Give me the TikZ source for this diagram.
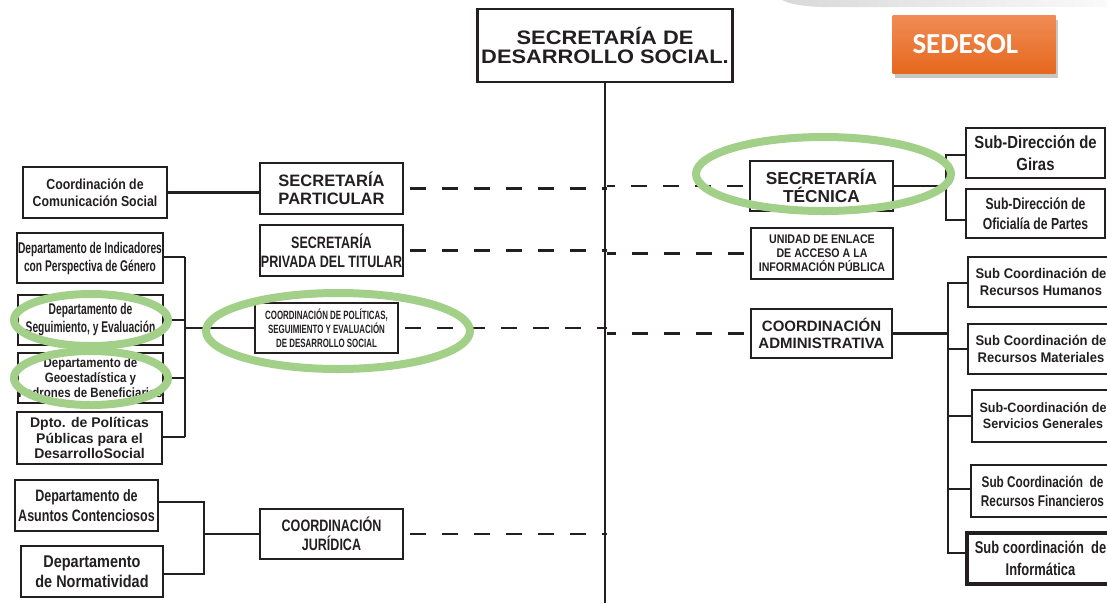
\documentclass[tikz,border=0pt]{standalone}
\usepackage{fontspec}
\setmainfont{Liberation Sans}
\newfontfamily\cA[FakeStretch=0.66]{Liberation Sans}
\newfontfamily\cB[FakeStretch=0.76]{Liberation Sans}
\newfontfamily\cC[FakeStretch=0.85]{Liberation Sans}
\newfontfamily\cE[FakeStretch=0.93]{Liberation Sans}
\newfontfamily\cW[FakeStretch=1.12]{Liberation Sans}
\newfontfamily\sedfont{Carlito}
\usetikzlibrary{shadows}
\definecolor{ink}{RGB}{35,31,32}
\definecolor{hlgreen}{RGB}{163,208,137}
\definecolor{orTop}{RGB}{240,140,85}
\definecolor{orBot}{RGB}{230,104,30}
\tikzset{
  box/.style={draw=ink, line width=2.5pt, inner sep=0pt, align=center, text=ink},
  link/.style={draw=ink, line width=2.4pt},
  dlink/.style={draw=ink, line width=2.4pt, dash pattern=on 16pt off 16pt, dash phase=26pt},
  hl/.style={draw=hlgreen, line width=8pt},
}
\newcommand\fz[2]{\fontsize{#1}{#2}\selectfont}
\begin{document}
\begin{tikzpicture}[x=1pt,y=-1pt]
\useasboundingbox (0,0) rectangle (1107,603);
\clip (0,0) rectangle (1107,603);
% faint grey fragment at top
\shade[left color=gray!30, right color=gray!4] (782,0) -- (1107,0) -- (1107,7) -- (845,7) .. controls (810,8) and (792,5) .. (782,0) -- cycle;

% title and trunk
\node[box, minimum width=255pt, minimum height=73pt, font={\cW\bfseries\fz{19.5}{18.5}}] (top) at (605,45.5) {SECRETARÍA DE\\DESARROLLO SOCIAL.};
\coordinate (trunkend) at (607,603);
\draw[link] (top.south) -- (top.south |- trunkend);

% SEDESOL
\node[minimum width=163pt, minimum height=58pt, inner xsep=20pt, inner ysep=0pt, top color=orTop, bottom color=orBot, drop shadow={shadow xshift=2pt, shadow yshift=-5pt, opacity=0.45}, text=white, font={\sedfont\bfseries\fz{29}{30}}] (sed) at (974,44) {\makebox[123pt][l]{SEDESOL}};

% left column boxes
\node[box, minimum width=144pt, minimum height=51pt, font={\cC\bfseries\fz{14.5}{17}}] (cocs) at (95,192.5) {Coordinación de\\Comunicación Social};
\node[box, minimum width=146pt, minimum height=50pt, font={\cA\bfseries\fz{15.5}{18}}] (dind) at (90,258) {Departamento de Indicadores\\con Perspectiva de Género};
\node[box, minimum width=145pt, minimum height=50pt, font={\cA\bfseries\fz{15.5}{18}}] (dseg) at (90.5,320) {Departamento de\\Seguimiento, y Evaluación};
\node[box, minimum width=145pt, minimum height=50pt, font={\cC\bfseries\fz{13.5}{15}}] (dgeo) at (90.5,378) {Departamento de\\Geoestadística y\\Padrones de Beneficiarios};
\node[box, minimum width=145pt, minimum height=52pt, font={\bfseries\fz{14}{15.5}}] (dpol) at (89.5,438) {Dpto. de Políticas\\Públicas para el\\DesarrolloSocial};
\node[box, minimum width=143pt, minimum height=51pt, font={\cB\bfseries\fz{16.5}{20}}] (dasu) at (86.5,505.5) {Departamento de\\Asuntos Contenciosos};
\node[box, minimum width=142pt, minimum height=51pt, font={\cC\bfseries\fz{17}{20}}] (dnor) at (92,571.5) {Departamento\\de Normatividad};

% middle-left boxes
\node[box, minimum width=143pt, minimum height=51pt, font={\bfseries\fz{16.5}{18}}] (spart) at (331.5,188.5) {SECRETARÍA\\PARTICULAR};
\node[box, minimum width=143pt, minimum height=51pt, font={\cB\bfseries\fz{16.5}{19}}] (spriv) at (331.5,250.5) {SECRETARÍA\\PRIVADA DEL TITULAR};
\node[box, minimum width=143pt, minimum height=50pt, font={\cA\bfseries\fz{12}{14}}] (cpol) at (326.5,328) {COORDINACIÓN DE POLÍTICAS,\\SEGUIMIENTO Y EVALUACIÓN\\DE DESARROLLO SOCIAL};
\node[box, minimum width=143pt, minimum height=50pt, font={\cB\bfseries\fz{16.5}{19}}] (cjur) at (331.5,534) {COORDINACIÓN\\JURÍDICA};

% middle-right boxes
\node[box, minimum width=143pt, minimum height=50pt, font={\bfseries\fz{17.3}{18}}] (stec) at (821.5,186) {SECRETARÍA\\TÉCNICA};
\node[box, minimum width=142pt, minimum height=51pt, font={\cC\bfseries\fz{12.5}{14}}] (unid) at (822,253.5) {UNIDAD DE ENLACE\\DE ACCESO A LA\\INFORMACIÓN PÚBLICA};
\node[box, minimum width=141pt, minimum height=49pt, font={\bfseries\fz{15}{17}}] (cadm) at (821.5,333.5) {COORDINACIÓN\\ADMINISTRATIVA};

% right column boxes
\node[box, minimum width=139pt, minimum height=50pt, font={\cC\bfseries\fz{17.5}{22}}] (sgir) at (1035.5,153) {Sub-Dirección de\\Giras};
\node[box, minimum width=139pt, minimum height=49pt, font={\cB\bfseries\fz{16}{20}}] (sofi) at (1035.5,213.5) {Sub-Dirección de\\Oficialía de Partes};
\node[box, minimum width=146pt, minimum height=50pt, font={\cE\bfseries\fz{14}{17}}] (srh) at (1041,282) {Sub Coordinación de\\Recursos Humanos};
\node[box, minimum width=146pt, minimum height=50pt, font={\cE\bfseries\fz{14}{17}}] (srm) at (1041,349) {Sub Coordinación de\\Recursos Materiales};
\node[box, minimum width=142pt, minimum height=52pt, font={\cE\bfseries\fz{13.5}{16}}] (ssg) at (1043,416) {Sub-Coordinación de\\Servicios Generales};
\node[box, minimum width=143pt, minimum height=52pt, font={\cB\bfseries\fz{15.5}{19}}] (srf) at (1042.5,491) {Sub Coordinación~ de\\Recursos Financieros};
\node[box, line width=3.4pt, minimum width=147pt, minimum height=51pt, font={\cB\bfseries\fz{17}{22}}] (sinf) at (1040.5,558.5) {Sub coordinación~ de\\Informática};

% left connectors
\draw[link] (cocs.east) -- (spart.west |- cocs.east);
\coordinate (b1t) at (185,257);
\coordinate (b1b) at (185,437);
\draw[link] (b1t) -- (b1b);
\draw[link] (dind.east |- b1t) -- (b1t);
\draw[link] (dseg.east) -- (dseg.east -| b1t);
\draw[link] (dgeo.east) -- (dgeo.east -| b1t);
\draw[link] (dpol.east |- b1b) -- (b1b);
\draw[link] (cpol.west -| b1t) -- (cpol.west);
\coordinate (b4t) at (204,502);
\coordinate (b4b) at (204,574);
\draw[link] (dasu.east |- b4t) -- (b4t) -- (b4b) -- (dnor.east |- b4b);
\draw[link] (cjur.west -| b4t) -- (cjur.west);

% dashed links to trunk
\draw[dlink] (spart.east) -- (spart.east -| trunkend);
\draw[dlink] (spriv.east) -- (spriv.east -| trunkend);
\draw[dlink] (cpol.east) -- (cpol.east -| trunkend);
\draw[dlink] (cjur.east) -- (cjur.east -| trunkend);
\draw[dlink] (stec.west) -- (stec.west -| trunkend);
\draw[dlink] (unid.west) -- (unid.west -| trunkend);
\draw[dlink] (cadm.west) -- (cadm.west -| trunkend);

% right connectors
\coordinate (b2t) at (946,155);
\coordinate (b2b) at (946,220);
\draw[link] (b2t -| sgir.west) -- (b2t) -- (b2b) -- (b2b -| sofi.west);
\draw[link] (stec.east) -- (stec.east -| b2t);
\coordinate (b3t) at (948,283);
\coordinate (b3b) at (948,553);
\draw[link] (b3t -| srh.west) -- (b3t) -- (b3b) -- (b3b -| sinf.west);
\draw[link] (cadm.east) -- (cadm.east -| b3t);
\draw[link] (948,349) -- (srm.west);
\draw[link] (948,416) -- (ssg.west);
\draw[link] (948,489) -- (srf.west |- 948,489);

% green highlights
\draw[hl] (91,320) ellipse [x radius=77pt, y radius=26pt];
\draw[hl] (91,378) ellipse [x radius=77pt, y radius=27pt];
\draw[hl] (338,331) ellipse [x radius=132pt, y radius=38pt];
\draw[hl] (823.5,174) ellipse [x radius=127.5pt, y radius=37pt];
\end{tikzpicture}
\end{document}
